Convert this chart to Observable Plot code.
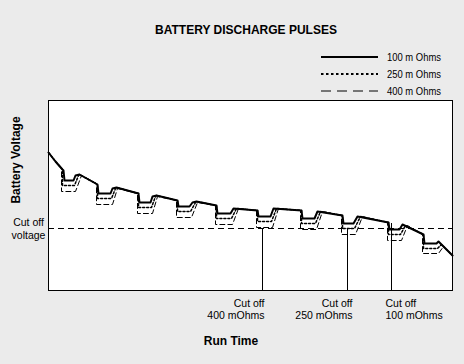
<!DOCTYPE html>
<html><head><meta charset="utf-8">
<script src="https://cdn.jsdelivr.net/npm/d3@7"></script>
<script src="https://cdn.jsdelivr.net/npm/@observablehq/plot@0.6"></script>
<style>
html,body{margin:0;padding:0;background:#ebebeb;}
#chart{width:464px;height:364px;position:relative;}
svg{display:block;}
</style></head><body><div id="chart"></div>
<script>
// Run time (minutes) and battery voltage (mV)
const run100 = [[0,3740],[7,3695],[14,3655],[15,3650],[16,3600],[25,3600],[27,3625],[31,3630],[49,3580],[50,3535],[62,3535],[64,3560],[68,3565],[90,3535],[91,3490],[102,3490],[104,3520],[108,3525],[129,3500],[130,3470],[141,3470],[144,3490],[148,3495],[168,3475],[169,3435],[182,3435],[185,3460],[209,3450],[210,3420],[222,3420],[225,3460],[253,3450],[254,3410],[266,3410],[269,3445],[294,3425],[295,3385],[305,3385],[309,3420],[340,3390],[341,3355],[351,3355],[354,3380],[375,3330],[376,3285],[388,3285],[390,3295],[404,3225]];
const run250 = [[0,3740],[7,3695],[14,3655],[14,3575],[26,3575],[30,3625],[31,3630],[49,3580],[49,3510],[63,3510],[67,3560],[68,3565],[90,3535],[90,3465],[103,3465],[107,3520],[108,3525],[129,3500],[129,3445],[142,3445],[147,3490],[148,3495],[168,3475],[168,3410],[183,3410],[188,3460],[209,3450],[209,3395],[223,3395],[228,3460],[253,3450],[253,3385],[267,3385],[272,3445],[294,3425],[294,3360],[306,3360],[312,3420],[340,3390],[340,3330],[352,3330],[357,3375],[375,3330],[375,3260],[389,3260],[393,3280],[404,3225]];
const run400 = [[0,3740],[7,3695],[13,3660],[13,3545],[27,3545],[33,3625],[48,3585],[48,3480],[64,3480],[69,3560],[89,3535],[89,3435],[104,3435],[109,3520],[128,3500],[128,3415],[143,3415],[149,3490],[167,3475],[167,3380],[184,3380],[190,3460],[208,3450],[208,3365],[224,3365],[230,3460],[252,3450],[252,3355],[268,3355],[274,3445],[293,3425],[293,3330],[307,3330],[314,3420],[339,3390],[339,3300],[353,3300],[359,3375],[374,3330],[374,3235],[390,3235],[395,3270],[404,3225]];

const seriesNames = ["100 m Ohms", "250 m Ohms", "400 m Ohms"];
const cutoffVoltage = 3360;
const cutoffNames = ["400 mOhms", "250 mOhms", "100 mOhms"];
const cutoffTimes = [214, 299, 343];
const cutoffTops = [3360, 3360, 3385];
const timeDomain = [0, 404];
const voltDomain = [3050, 4000];

const cutoffs = cutoffNames.map((name, i) => ({name, t: cutoffTimes[i], top: cutoffTops[i]}));
const font = "'Liberation Sans', Arial, sans-serif";
const labelAnchors = ["end", "end", "start"];
const labelDx = [2, 5, -6];

const chart = Plot.plot({
  width: 464, height: 364,
  marginLeft: 48, marginRight: 12, marginTop: 100, marginBottom: 74,
  style: {background: "transparent", fontFamily: font, fontSize: "10.5px", color: "black"},
  x: {domain: timeDomain, axis: null},
  y: {domain: voltDomain, axis: null},
  marks: [
    Plot.frame({fill: "white", stroke: "black"}),
    Plot.ruleY([cutoffVoltage], {stroke: "black", strokeDasharray: "6,4"}),
    Plot.ruleX(cutoffs, {x: "t", y1: () => voltDomain[0], y2: "top", stroke: "black"}),
    Plot.line(run400, {x: d => d[0], y: d => d[1], stroke: "black", strokeWidth: 1, strokeDasharray: "5,3"}),
    Plot.line(run250, {x: d => d[0], y: d => d[1], stroke: "black", strokeWidth: 1.5, strokeDasharray: "2,2"}),
    Plot.line(run100, {x: d => d[0], y: d => d[1], stroke: "black", strokeWidth: 2}),
    ...cutoffs.map((c, i) => Plot.text([c], {
      x: "t", y: () => voltDomain[0], text: d => "Cut off\n" + d.name,
      textAnchor: labelAnchors[i], lineAnchor: "top", lineHeight: 1.15, dy: 8, dx: labelDx[i],
      fill: "black", fontSize: 10.5
    })),
    Plot.text([cutoffVoltage], {
      x: () => timeDomain[0], y: d => d, text: () => "Cut off\nvoltage",
      textAnchor: "middle", lineHeight: 1.2, dx: -20, fill: "black", fontSize: 10.5
    })
  ]
});

const svg = d3.select(chart);
svg.append("text").attr("x", 246).attr("y", 34).attr("text-anchor", "middle")
  .attr("font-family", font).attr("font-weight", "bold").attr("font-size", 12)
  .text("BATTERY DISCHARGE PULSES");
svg.append("text").attr("transform", "translate(20,160) rotate(-90)").attr("text-anchor", "middle")
  .attr("font-family", font).attr("font-weight", "bold").attr("font-size", 12)
  .text("Battery Voltage");
svg.append("text").attr("x", 231).attr("y", 345).attr("text-anchor", "middle")
  .attr("font-family", font).attr("font-weight", "bold").attr("font-size", 12)
  .text("Run Time");

const legendDash = [null, "2.5,2.5", "10,6"];
const legendWidth = [2, 2, 1];
const lg = svg.append("g");
seriesNames.forEach((name, i) => {
  const y = 57 + i * 17;
  lg.append("line").attr("x1", 321).attr("x2", 378).attr("y1", y).attr("y2", y)
    .attr("stroke", "black").attr("stroke-width", legendWidth[i])
    .attr("stroke-dasharray", legendDash[i]);
  lg.append("text").attr("x", 387).attr("y", y + 4).attr("text-anchor", "start")
    .attr("font-family", font).attr("font-size", 10.5)
    .attr("textLength", 54).attr("lengthAdjust", "spacingAndGlyphs")
    .text(name);
});

document.getElementById("chart").appendChild(chart);
</script></body></html>
